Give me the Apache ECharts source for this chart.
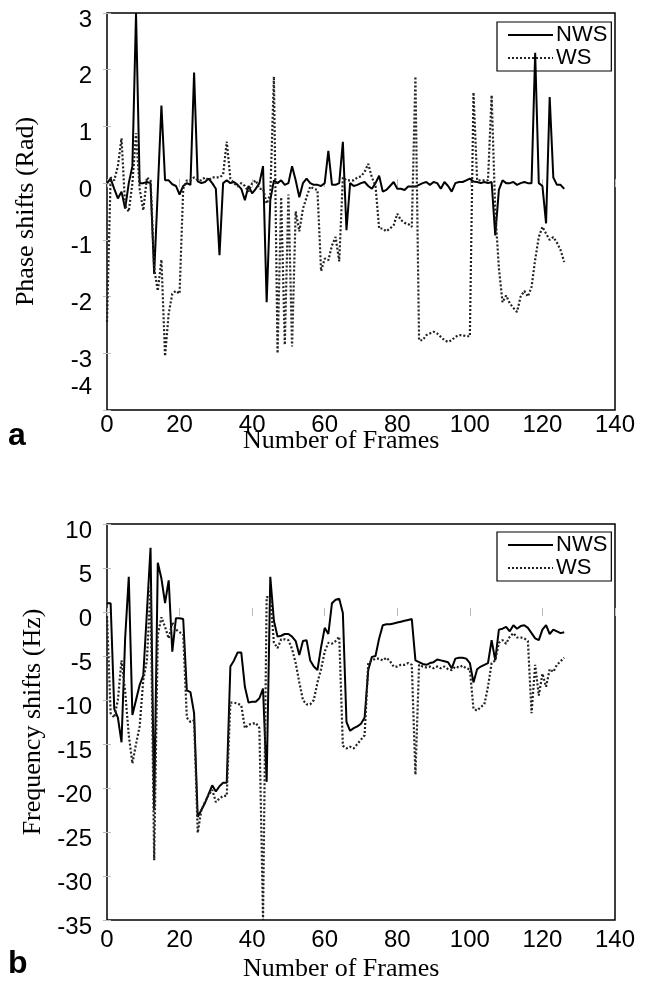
<!DOCTYPE html>
<html>
<head>
<meta charset="utf-8">
<script src="https://cdn.jsdelivr.net/npm/echarts@6/dist/echarts.min.js"></script>
<style>
  html, body { margin: 0; padding: 0; background: #fff; }
  #main { width: 650px; height: 988px; }
</style>
</head>
<body>
<div id="main"></div>
<script>
// panel a: phase shifts (rad), one value per frame 0..126
const phaseNWS = [
  0.0, 0.08, -0.1, -0.27, -0.15, -0.45, 0.0, 0.3, 3.0, 0.0,
  0.0, 0.02, 0.0, -1.6, -0.12, 1.37, 0.05, 0.05, -0.02, -0.05,
  -0.2, -0.05, 0.0, -0.03, 1.95, 0.03, 0.0, 0.02, 0.08, 0.0,
  -0.1, -1.27, 0.0, 0.05, 0.0, 0.02, -0.03, -0.1, -0.3, -0.05,
  -0.18, -0.1, 0.0, 0.3, -2.1, -0.3, 0.05, 0.0, 0.05, -0.03,
  0.0, 0.3, 0.05, -0.25, 0.0, 0.08, 0.0, -0.03, -0.03, -0.05,
  0.0, 0.57, -0.03, -0.03, 0.0, 0.73, -0.83, 0.0, -0.05, -0.03,
  0.0, 0.02, -0.05, -0.1, 0.0, 0.13, -0.15, -0.12, -0.05, 0.02,
  -0.1, -0.1, -0.12, -0.06, -0.06, -0.06, -0.03, 0.0, 0.02, -0.03,
  0.02, 0.0, -0.1, 0.02, -0.05, -0.15, 0.0, 0.02, 0.02, 0.05,
  0.08, 0.03, 0.02, 0.0, 0.02, 0.0, 0.02, -0.92, -0.12, 0.05,
  0.0, 0.0, 0.02, -0.03, 0.0, 0.02, 0.0, 0.0, 2.3, 0.0,
  -0.05, -0.71, 1.52, 0.1, -0.03, -0.03, -0.1
];
const phaseWS = [
  -2.45, 0.1, 0.05, 0.3, 0.79, -0.4, -0.5, 0.0, 0.88, -0.1,
  -0.48, 0.1, 0.05, -1.5, -1.9, -1.35, -3.05, -2.3, -1.95, -1.9,
  -1.95, -0.1, 0.05, 0.05, 0.1, 0.05, 0.05, 0.1, 0.05, 0.1,
  0.1, 0.1, 0.15, 0.73, 0.08, 0.0, -0.06, 0.0, -0.05, -0.15,
  0.0, 0.05, -0.1, -0.1, -0.36, -0.2, 1.88, -3.0, -0.25, -2.85,
  -0.2, -2.88, -0.5, -0.85, -0.45, -0.25, -0.06, -0.1, -0.12, -1.55,
  -1.33, -1.36, -1.1, -0.95, -1.38, 0.1, 0.05, 0.05, 0.05, 0.1,
  0.12, 0.2, 0.34, 0.1, -0.05, -0.8, -0.8, -0.85, -0.8, -0.74,
  -0.54, -0.65, -0.7, -0.72, -0.77, 1.88, -2.77, -2.77, -2.68, -2.65,
  -2.62, -2.65, -2.71, -2.77, -2.8, -2.77, -2.71, -2.68, -2.68, -2.7,
  -2.7, 1.6, 0.05, 0.05, 0.05, 0.05, 1.55, -0.5, -1.5, -2.1,
  -1.98, -2.12, -2.2, -2.27, -2.0, -1.9, -2.0, -1.83, -1.35, -0.95,
  -0.77, -0.89, -1.0, -0.95, -1.05, -1.18, -1.39
];

// panel b: frequency shifts (Hz), one value per frame 0..126
const freqNWS = [
  1.0, 1.0, -11, -12, -14.8, -3, 4, -11.7, -10, -8.3,
  -7.2, 0, 7.3, -22.5, 5.6, 3.8, 1.0, 3.6, -4.5, -0.7,
  -0.7, -0.8, -8.9, -9.1, -11.5, -23.3, -22.5, -21.7, -20.7, -19.7,
  -20.4, -19.8, -19.4, -19.4, -6.2, -5.5, -4.6, -4.6, -8.5, -10.3,
  -10.2, -10.2, -9.8, -8.7, -19.3, 4.0, -1.0, -2.8, -2.7, -2.5,
  -2.5, -2.8, -3.3, -4.9, -3.3, -3.2, -5.5, -6.2, -6.6, -4.0,
  -1.8, -2.5, 1.0, 1.4, 1.5, -0.1, -12.5, -13.5, -13.2, -13.0,
  -12.7, -12.0, -6.6, -5.1, -5.0, -3.0, -1.5, -1.4, -1.4, -1.3,
  -1.2, -1.1, -1.0, -0.9, -0.8, -5.5, -5.7, -5.9, -6.0, -5.8,
  -5.7, -5.4, -5.5, -5.6, -5.7, -6.4, -5.3, -5.2, -5.2, -5.3,
  -5.8, -8.0, -6.5, -6.2, -6.0, -5.8, -3.2, -5.5, -2.0, -1.9,
  -1.7, -2.2, -1.5, -1.9, -1.6, -1.5, -1.8, -2.4, -3.0, -3.2,
  -2.0, -1.5, -2.5, -2.0, -2.2, -2.4, -2.3
];
const freqWS = [
  -0.5, -11.5, -12, -10, -5.5, -9, -14, -17.2, -15, -13,
  -7.7, -5.5, 2.8, -28.2, -2.6, -0.6, -1.7, -3.0, -1.2, -2.0,
  -2.3, -2.5, -12, -12.5, -12.3, -25.1, -22.5, -21.6, -20.8, -20.2,
  -21.6, -21.2, -20.9, -20.9, -10.3, -10.3, -10.4, -10.6, -13.2, -12.8,
  -12.7, -12.6, -13.2, -35, 1.7, 1.7, -3.5, -4.1, -3.1, -3.1,
  -3.2, -4.2, -5.8, -8, -10, -10.5, -10.5, -10, -8, -6.5,
  -4.5, -3.5, -3.6, -3.3, -2.8, -15.2, -15.5, -15.3, -15.5, -15.0,
  -14.5, -14.0, -5.8, -5.5, -5.3, -5.3, -5.5, -5.2, -5.6, -6.2,
  -6.2, -6.0, -6.0, -5.8, -6.0, -18.5, -6.0, -6.2, -6.3, -6.2,
  -6.4, -6.2, -6.4, -6.2, -6.5, -6.6, -6.2, -6.3, -6.1, -6.4,
  -6.5, -11, -11.2, -10.8, -10.5, -8.5, -5.8, -5.5, -3.5, -3.2,
  -3.6, -2.8, -2.4, -2.9, -2.9, -3.0, -3.3, -11.5, -6.0, -9.5,
  -7.0, -8.5, -6.5, -6.8, -6.0, -5.6, -5.2
];

const xTicks = { min: 0, max: 140, interval: 20 };
const phaseTicks = { min: -4, max: 3, interval: 1 };
const freqTicks = { min: -35, max: 10, interval: 5 };

const toPairs = arr => arr.map((v, i) => [i, v]);

const sans = 'Liberation Sans';
const serif = 'Liberation Serif';

var myChart = echarts.init(document.getElementById('main'));

const grids = [
  { left: 107, right: 35, top: 13, height: 397, show: true, borderColor: '#000', borderWidth: 1.5 },
  { left: 107, right: 35, top: 524, height: 396, show: true, borderColor: '#000', borderWidth: 1.5 }
];

const tick = { show: true, inside: true, length: 4, lineStyle: { color: '#bbb' } };

// bottom x axis with labels + top x axis with only ticks, for each grid
const xAxes = [];
const yAxes = [];
[0, 1].forEach(g => {
  xAxes.push({
    type: 'value', gridIndex: g, min: xTicks.min, max: xTicks.max, interval: xTicks.interval,
    axisLine: { show: false }, axisTick: tick,
    axisLabel: { color: '#000', fontFamily: sans, fontSize: 24, margin: g === 0 ? 3 : 8 },
    splitLine: { show: false }
  });
  xAxes.push({
    type: 'value', gridIndex: g, position: 'top', min: xTicks.min, max: xTicks.max, interval: xTicks.interval,
    axisLine: { show: false }, axisTick: tick,
    axisLabel: { show: false }, splitLine: { show: false }
  });
});

const yt = [phaseTicks, freqTicks];
const ynames = ['Phase shifts (Rad)', 'Frequency shifts (Hz)'];
[0, 1].forEach(g => {
  yAxes.push({
    type: 'value', gridIndex: g, min: yt[g].min, max: yt[g].max, interval: yt[g].interval,
    name: ynames[g], nameLocation: 'middle', nameGap: g === 0 ? 68 : 60,
    nameTextStyle: { fontFamily: serif, fontSize: 26, color: '#000' },
    axisLine: { show: false }, axisTick: tick,
    axisLabel: {
      color: '#000', fontFamily: sans, fontSize: 24, margin: 15, padding: [14, 0, 0, 0],
      // the lowest label of panel a sits raised above the frame corner
      formatter: v => (g === 0 && v === yt[0].min) ? '{up|' + v + '}' : String(v),
      rich: { up: { fontFamily: sans, fontSize: 24, color: '#000', padding: [0, 0, 60, 0] } }
    },
    splitLine: { show: false }
  });
  yAxes.push({
    type: 'value', gridIndex: g, position: 'right', min: yt[g].min, max: yt[g].max, interval: yt[g].interval,
    axisLine: { show: false }, axisTick: tick,
    axisLabel: { show: false }, splitLine: { show: false }
  });
});

const lineSeries = (name, data, g, dotted) => ({
  name: name, type: 'line', xAxisIndex: g * 2, yAxisIndex: g * 2,
  data: toPairs(data), symbol: 'none', animation: false,
  lineStyle: { color: dotted ? '#222' : '#000', width: dotted ? 2.2 : 2, type: dotted ? [2, 2] : 'solid' },
  itemStyle: { color: '#000' }
});

const legendBox = (g, top) => ({
  orient: 'vertical', left: 497, top: top,
  data: ['NWS', 'WS'].map(n => ({ name: n })),
  borderColor: '#000', borderWidth: 1.2, padding: [2, 4, 2, 10], itemGap: 1,
  itemWidth: 45, itemHeight: 12,
  itemStyle: { color: 'transparent', borderWidth: 0 },
  textStyle: { fontFamily: sans, fontSize: 22, color: '#000', lineHeight: 22, padding: [0, 0, 0, -2] }
});

var option = {
  backgroundColor: '#fff',
  animation: false,
  grid: grids,
  xAxis: xAxes,
  yAxis: yAxes,
  legend: [legendBox(0, 22), legendBox(1, 532)],
  series: [
    lineSeries('NWS', phaseNWS, 0, false),
    lineSeries('WS', phaseWS, 0, true),
    lineSeries('NWS', freqNWS, 1, false),
    lineSeries('WS', freqWS, 1, true)
  ],
  graphic: [
    { type: 'text', left: 243, top: 428, style: { text: 'Number of Frames', font: '26px "Liberation Serif"', fill: '#000' } },
    { type: 'text', left: 243, top: 956, style: { text: 'Number of Frames', font: '26px "Liberation Serif"', fill: '#000' } },
    { type: 'text', left: 8, top: 420, style: { text: 'a', font: 'bold 32px "Liberation Sans"', fill: '#000' } },
    { type: 'text', left: 8, top: 948, style: { text: 'b', font: 'bold 32px "Liberation Sans"', fill: '#000' } }
  ]
};
myChart.setOption(option);
</script>
</body>
</html>
